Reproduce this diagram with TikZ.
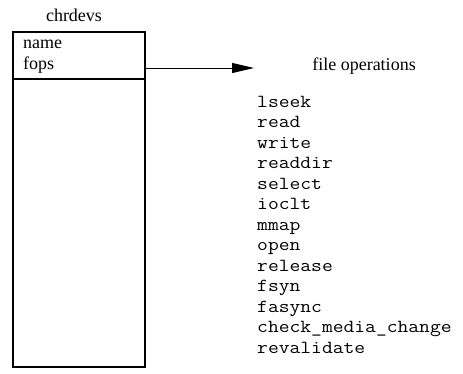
\documentclass[tikz,border=0pt]{standalone}
\usepackage{fontspec}
\setmainfont{Liberation Serif}
\setmonofont{Latin Modern Mono}[FakeStretch=1.14]
\usetikzlibrary{arrows.meta}
\begin{document}
\begin{tikzpicture}[x=1pt,y=-1pt,
  lbl/.style={inner sep=0pt,anchor=base west,font=\fontsize{18}{20}\selectfont},
  ttl/.style={inner sep=0pt,anchor=base,font=\fontsize{18}{20}\selectfont},
  op/.style={inner sep=0pt,anchor=base west,font=\ttfamily\fontsize{18.4}{20}\selectfont},
  box/.style={draw,line width=1.2pt}]
\useasboundingbox (0,0) rectangle (463,373);
\draw[box] (13,32) rectangle (145,367);
\draw[line width=1.2pt] (13,79) -- (145,79);
\node[ttl] (title) at (74,21) {chrdevs};
\node[lbl] (name) at (23,48) {name};
\node[lbl] (fops) at (23,69) {fops};
\coordinate (src) at (145,68);
\coordinate (dst) at (254,68);
\draw[line width=1pt,-{Triangle[length=22pt,width=10pt]}] (src) -- (dst);
\node[ttl] (fo) at (364,70) {file operations};
\foreach \t [count=\i from 0] in {lseek,read,write,readdir,select,ioclt,mmap,open,release,fsyn,fasync,check\_media\_change,revalidate}
  \node[op] (op\i) at (257,{107+20.5*\i}) {\t};
\end{tikzpicture}
\end{document}
